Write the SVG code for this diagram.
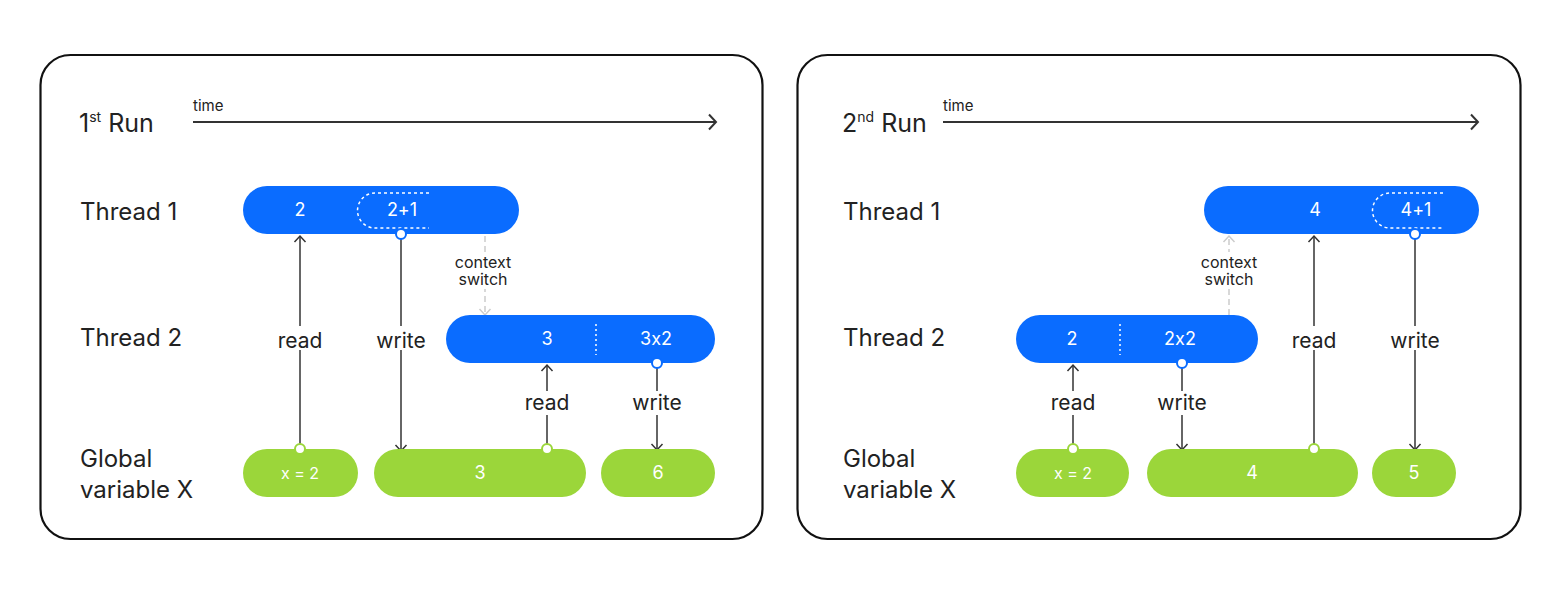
<svg xmlns="http://www.w3.org/2000/svg" width="1560" height="593" viewBox="0 0 1560 593">
<style>
.panel{fill:#fff;stroke:#111;stroke-width:2.2}
.row{font-family:Inter,"Liberation Sans",sans-serif;font-size:24px;fill:#222}
.run{font-family:Inter,"Liberation Sans",sans-serif;font-size:25px;fill:#222}
.sup{font-size:14px}
.small{font-family:Inter,"Liberation Sans",sans-serif;font-size:15px;fill:#222}
.lbl{font-family:Inter,"Liberation Sans",sans-serif;font-size:21px;fill:#222;text-anchor:middle}
.ctx{font-family:Inter,"Liberation Sans",sans-serif;font-size:16px;fill:#222;text-anchor:middle}
.blue{fill:#0A6CFF}
.green{fill:#9BD63A}
.val{font-family:Inter,"Liberation Sans",sans-serif;font-size:18px;fill:#fff;text-anchor:middle;font-feature-settings:"calt" 0;font-variant-ligatures:none}
.dash{fill:none;stroke:#fff;stroke-width:1.5;stroke-dasharray:3 3}
.div{stroke:#fff;stroke-width:1.5;stroke-dasharray:2 3}
.ln{stroke:#333;stroke-width:1.5;fill:none}
.time{stroke:#333;stroke-width:2;fill:none}
.cs{stroke:#ccc;stroke-width:1.5;stroke-dasharray:6 4;fill:none}
.cb{fill:#fff;stroke:#0A6CFF;stroke-width:2}
.cg{fill:#fff;stroke:#9BD63A;stroke-width:2}
.bg{fill:#fff}
</style>
<defs>
<marker id="ah" viewBox="-8 -7 10 14" markerWidth="10" markerHeight="14" refX="0" refY="0" orient="auto" markerUnits="userSpaceOnUse">
<path d="M-6,-5.5 L0,0 L-6,5.5" fill="none" stroke="#333" stroke-width="1.5"/>
</marker>
<marker id="ahg" viewBox="-8 -7 10 14" markerWidth="10" markerHeight="14" refX="0" refY="0" orient="auto" markerUnits="userSpaceOnUse">
<path d="M-6,-5.5 L0,0 L-6,5.5" fill="none" stroke="#ccc" stroke-width="1.5"/>
</marker>
<marker id="aht" viewBox="-10 -9 12 18" markerWidth="12" markerHeight="18" refX="0" refY="0" orient="auto" markerUnits="userSpaceOnUse">
<path d="M-7,-7.5 L0,0 L-7,7.5" fill="none" stroke="#333" stroke-width="2"/>
</marker>
</defs>

<g id="panel1">
<rect class="panel" x="40.5" y="55" width="722" height="484" rx="30"/>
<text class="run" x="79" y="132">1<tspan class="sup" dy="-10">st</tspan><tspan dy="10"> Run</tspan></text>
<text class="small" x="193" y="111">time</text>
<text class="row" x="80" y="220">Thread 1</text>
<text class="row" x="80" y="346">Thread 2</text>
<text class="row" x="80" y="467">Global</text>
<text class="row" x="80" y="498">variable X</text>
</g>

<g id="panel2">
<rect class="panel" x="797.5" y="55" width="723" height="484" rx="30"/>
<text class="run" x="842" y="132">2<tspan class="sup" dy="-10">nd</tspan><tspan dy="10"> Run</tspan></text>
<text class="small" x="943" y="111">time</text>
<text class="row" x="843" y="220">Thread 1</text>
<text class="row" x="843" y="346">Thread 2</text>
<text class="row" x="843" y="467">Global</text>
<text class="row" x="843" y="498">variable X</text>
</g>

<g id="connectors">
<line class="time" x1="193" y1="122" x2="716" y2="122" marker-end="url(#aht)"/>
<line class="time" x1="943" y1="122" x2="1478" y2="122" marker-end="url(#aht)"/>
<line class="ln" x1="300" y1="445" x2="300" y2="236" marker-end="url(#ah)"/>
<line class="ln" x1="401" y1="239" x2="401" y2="451" marker-end="url(#ah)"/>
<line class="cs" x1="485" y1="236" x2="485" y2="315" marker-end="url(#ahg)"/>
<line class="ln" x1="547" y1="445" x2="547" y2="365" marker-end="url(#ah)"/>
<line class="ln" x1="657" y1="368" x2="657" y2="450" marker-end="url(#ah)"/>
<line class="cs" x1="1229" y1="315" x2="1229" y2="236" marker-end="url(#ahg)"/>
<line class="ln" x1="1073" y1="445" x2="1073" y2="365" marker-end="url(#ah)"/>
<line class="ln" x1="1182" y1="368" x2="1182" y2="450" marker-end="url(#ah)"/>
<line class="ln" x1="1314" y1="445" x2="1314" y2="236" marker-end="url(#ah)"/>
<line class="ln" x1="1415" y1="239" x2="1415" y2="450" marker-end="url(#ah)"/>
<rect class="bg" x="272" y="326" width="56" height="24"/>
<text class="lbl" x="300" y="348">read</text>
<rect class="bg" x="369" y="326" width="64" height="24"/>
<text class="lbl" x="401" y="348">write</text>
<rect class="bg" x="519" y="391" width="56" height="24"/>
<text class="lbl" x="547" y="410">read</text>
<rect class="bg" x="625" y="391" width="64" height="24"/>
<text class="lbl" x="657" y="410">write</text>
<rect class="bg" x="448" y="252" width="72" height="37"/>
<text class="ctx" x="483" y="268">context</text>
<text class="ctx" x="483" y="285">switch</text>

<rect class="bg" x="1045" y="391" width="56" height="24"/>
<text class="lbl" x="1073" y="410">read</text>
<rect class="bg" x="1150" y="391" width="64" height="24"/>
<text class="lbl" x="1182" y="410">write</text>
<rect class="bg" x="1286" y="326" width="56" height="24"/>
<text class="lbl" x="1314" y="348">read</text>
<rect class="bg" x="1383" y="326" width="64" height="24"/>
<text class="lbl" x="1415" y="348">write</text>
<rect class="bg" x="1193" y="252" width="72" height="37"/>
<text class="ctx" x="1229" y="268">context</text>
<text class="ctx" x="1229" y="285">switch</text>
</g>

<g id="r1-thread1">
<rect class="blue" x="243" y="186" width="276" height="48" rx="24"/>
<text class="val" x="300" y="216">2</text>
<path class="dash" d="M429,193 H375 A17.5,17.5 0 0 0 375,228 H429"/>
<text class="val" x="402" y="216">2+1</text>
<circle class="cb" cx="401" cy="234" r="5"/>
</g>
<g id="r1-thread2">
<rect class="blue" x="446" y="315" width="269" height="48" rx="24"/>
<text class="val" x="547" y="345">3</text>
<line class="div" x1="596" y1="324" x2="596" y2="355"/>
<text class="val" x="656" y="345">3x2</text>
<circle class="cb" cx="657" cy="363" r="5"/>
</g>
<g id="r1-x2">
<rect class="green" x="243" y="449" width="115" height="48" rx="24"/>
<text class="val" x="300" y="479" style="font-size:16px">x = 2</text>
<circle class="cg" cx="300" cy="449" r="5"/>
</g>
<g id="r1-x3">
<rect class="green" x="374" y="449" width="212" height="48" rx="24"/>
<text class="val" x="480" y="479">3</text>
<circle class="cg" cx="547" cy="449" r="5"/>
</g>
<g id="r1-x6">
<rect class="green" x="601" y="449" width="114" height="48" rx="24"/>
<text class="val" x="658" y="479">6</text>
</g>

<g id="r2-thread1">
<rect class="blue" x="1204" y="186" width="275" height="48" rx="24"/>
<text class="val" x="1315" y="216">4</text>
<path class="dash" d="M1443,193 H1390 A17.5,17.5 0 0 0 1390,228 H1443"/>
<text class="val" x="1416" y="216">4+1</text>
<circle class="cb" cx="1415" cy="234" r="5"/>
</g>
<g id="r2-thread2">
<rect class="blue" x="1016" y="315" width="242" height="48" rx="24"/>
<text class="val" x="1072" y="345">2</text>
<line class="div" x1="1120" y1="324" x2="1120" y2="355"/>
<text class="val" x="1180" y="345">2x2</text>
<circle class="cb" cx="1182" cy="363" r="5"/>
</g>
<g id="r2-x2">
<rect class="green" x="1016" y="449" width="113" height="48" rx="24"/>
<text class="val" x="1073" y="479" style="font-size:16px">x = 2</text>
<circle class="cg" cx="1073" cy="449" r="5"/>
</g>
<g id="r2-x4">
<rect class="green" x="1147" y="449" width="211" height="48" rx="24"/>
<text class="val" x="1252" y="479">4</text>
<circle class="cg" cx="1314" cy="449" r="5"/>
</g>
<g id="r2-x5">
<rect class="green" x="1372" y="449" width="84" height="48" rx="24"/>
<text class="val" x="1414" y="479">5</text>
</g>
</svg>
